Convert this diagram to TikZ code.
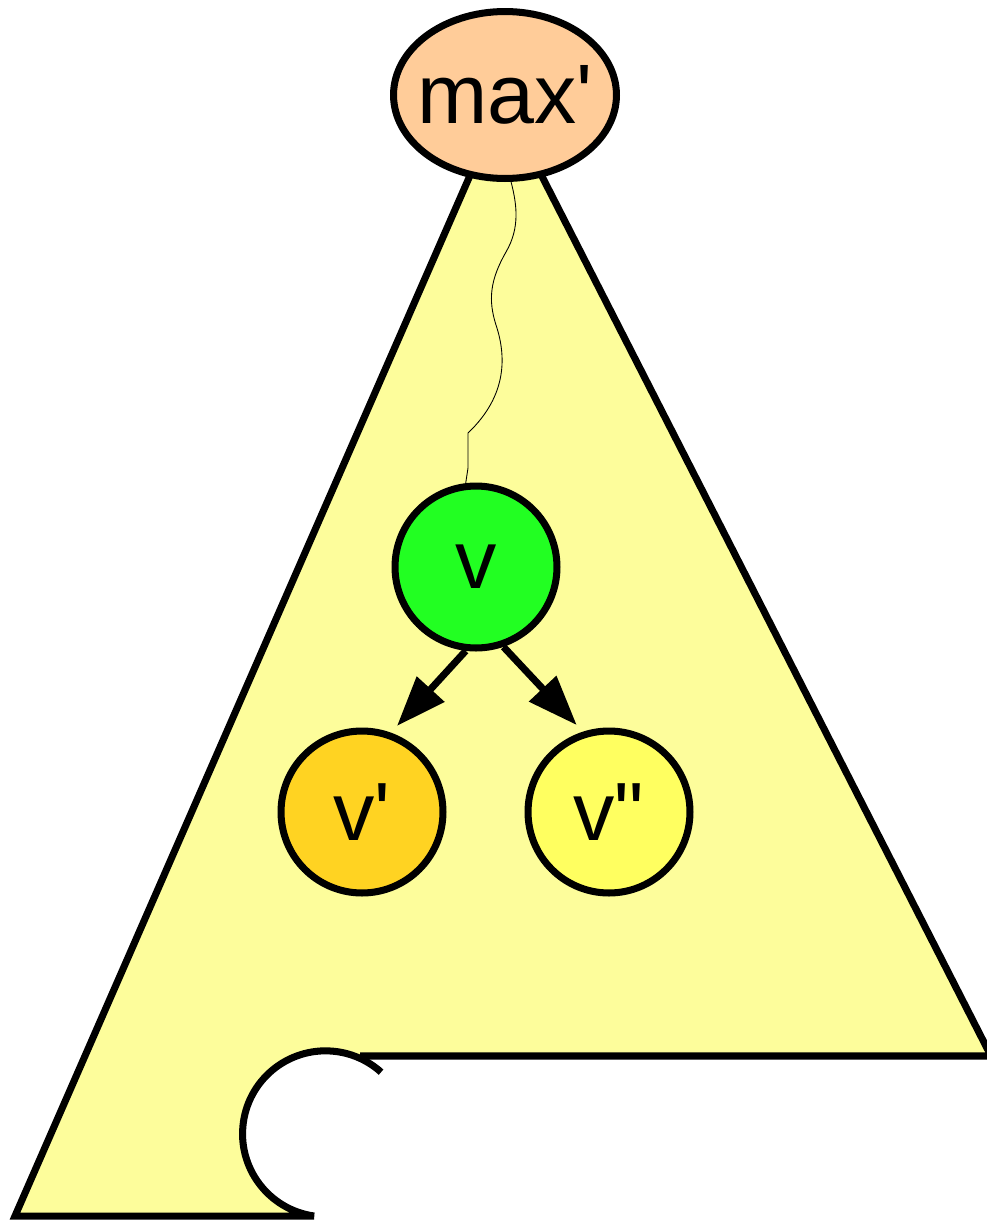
\documentclass[tikz,border=0pt]{standalone}
\usepackage{fontspec}
\setmainfont{Liberation Sans}
\usetikzlibrary{arrows.meta,shapes.geometric}
\definecolor{treefill}{HTML}{FDFD9B}
\definecolor{maxfill}{HTML}{FFCC99}
\definecolor{vfill}{HTML}{22FF22}
\definecolor{vpfill}{HTML}{FFD322}
\definecolor{vppfill}{HTML}{FFFF60}

\begin{document}
\begin{tikzpicture}[x=0.02cm,y=-0.02cm,
  outline/.style={line width=4pt},
  vertex/.style={circle,draw,line width=4pt,minimum size=3.24cm,inner sep=0pt,
    font=\fontsize{47}{47}\selectfont},
  edge/.style={line width=4pt,-{Triangle[length=1cm,width=0.72cm]}}]
  \useasboundingbox (0,0) rectangle (987,1221);
  % the subtree with a piece cut out at the bottom
  \coordinate (top) at (503,100);
  \coordinate (bl) at (15,1216);
  \coordinate (br) at (991,1056);
  \fill[treefill] (top) -- (bl) -- (314,1216)
    arc[start angle=262,end angle=68,radius=1.66cm] -- (br) -- cycle;
  \draw[outline] (top) -- (bl) -- (314,1216)
    arc[start angle=262,end angle=48,radius=1.66cm];
  \draw[outline] (360,1056) -- (br) -- (top);
  \node[ellipse,draw,line width=4pt,fill=maxfill,minimum width=4.46cm,
    minimum height=3.34cm,inner sep=0pt,font=\fontsize{48}{48}\selectfont]
    (maxp) at (505,95) {\makebox[0pt]{max\textquotesingle}};
  \node[vertex,fill=vfill] (v) at (476,567) {v};
  \node[vertex,fill=vpfill] (vp) at (362,812) {v\textquotesingle};
  \node[vertex,fill=vppfill] (vpp) at (609,812) {v\textquotedbl};
  % path from the root down to v
  \draw[line width=0.5pt] (maxp.-86) .. controls (517,205) and (520,228) .. (506,252)
    .. controls (490,280) and (488,300) .. (496,325)
    .. controls (506,355) and (508,395) .. (468,433) -- (468,468) -- (v.97);
  \draw[edge,shorten >=0.18cm] (v.-97) -- (vp.70);
  \draw[edge,shorten >=0.18cm] (v.-71) -- (vpp.108);
\end{tikzpicture}
\end{document}
